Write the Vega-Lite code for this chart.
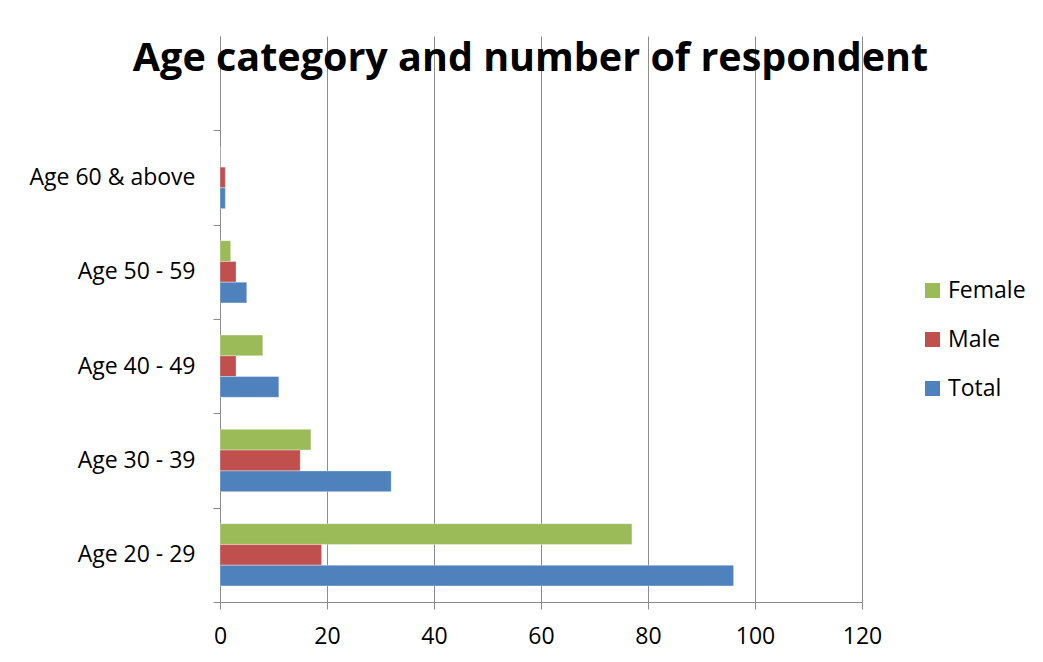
{
  "$schema": "https://vega.github.io/schema/vega-lite/v6.json",
  "width": 642,
  "height": 566,
  "autosize": "none",
  "padding": {"left": 220, "top": 36, "right": 181, "bottom": 60},
  "background": "white",
  "data": {
    "values": [
      {"age": "Age 20 - 29", "gender": "Female", "count": 77},
      {"age": "Age 20 - 29", "gender": "Male", "count": 19},
      {"age": "Age 20 - 29", "gender": "Total", "count": 96},
      {"age": "Age 30 - 39", "gender": "Female", "count": 17},
      {"age": "Age 30 - 39", "gender": "Male", "count": 15},
      {"age": "Age 30 - 39", "gender": "Total", "count": 32},
      {"age": "Age 40 - 49", "gender": "Female", "count": 8},
      {"age": "Age 40 - 49", "gender": "Male", "count": 3},
      {"age": "Age 40 - 49", "gender": "Total", "count": 11},
      {"age": "Age 50 - 59", "gender": "Female", "count": 2},
      {"age": "Age 50 - 59", "gender": "Male", "count": 3},
      {"age": "Age 50 - 59", "gender": "Total", "count": 5},
      {"age": "Age 60 & above", "gender": "Female", "count": 0},
      {"age": "Age 60 & above", "gender": "Male", "count": 1},
      {"age": "Age 60 & above", "gender": "Total", "count": 1}
    ]
  },
  "mark": {"type": "bar", "stroke": "white", "strokeOpacity": 0.35, "strokeWidth": 1},
  "encoding": {
    "y": {
      "field": "age",
      "type": "nominal",
      "title": "Age category and number of respondent",
      "scale": {
        "domain": ["Age 20 - 29", "Age 30 - 39", "Age 40 - 49", "Age 50 - 59", "Age 60 & above", "\u00a0"],
        "reverse": true,
        "paddingInner": 0,
        "paddingOuter": 0
      },
      "axis": {
        "grid": false,
        "tickBand": "extent",
        "domainColor": "#8c8c8c",
        "tickColor": "#8c8c8c",
        "tickSize": 7,
        "labelFont": "Open Sans",
        "labelFontSize": 23,
        "labelColor": "black",
        "labelPadding": 18,
        "titleAngle": 0,
        "titleX": 310,
        "titleY": 34,
        "titleAlign": "center",
        "titleBaseline": "alphabetic",
        "titleFont": "Open Sans",
        "titleFontSize": 39.5,
        "titleFontWeight": "bold",
        "titleColor": "black"
      }
    },
    "yOffset": {
      "field": "gender",
      "type": "nominal",
      "sort": ["Female", "Male", "Total"],
      "scale": {"paddingInner": 0, "paddingOuter": 0.773}
    },
    "x": {
      "field": "count",
      "type": "quantitative",
      "scale": {"domain": [0, 120], "nice": false},
      "axis": {
        "title": null,
        "values": [0, 20, 40, 60, 80, 100, 120],
        "grid": true,
        "gridColor": "#8c8c8c",
        "gridOpacity": 1,
        "domainColor": "#8c8c8c",
        "tickColor": "#8c8c8c",
        "tickSize": 7,
        "labelFont": "Open Sans",
        "labelFontSize": 23,
        "labelColor": "black",
        "labelPadding": 16,
        "labelFlush": false
      }
    },
    "color": {
      "field": "gender",
      "type": "nominal",
      "scale": {"domain": ["Female", "Male", "Total"], "range": ["#9bbb59", "#c0504d", "#4f81bd"]},
      "legend": {
        "title": null,
        "orient": "none",
        "legendX": 701,
        "legendY": 243,
        "padding": 0,
        "symbolType": "square",
        "symbolSize": 225,
        "symbolStrokeWidth": 0,
        "labelFont": "Open Sans",
        "labelFontSize": 23,
        "labelColor": "black",
        "labelOffset": 4,
        "rowPadding": 25
      }
    }
  },
  "config": {"view": {"stroke": null}}
}
